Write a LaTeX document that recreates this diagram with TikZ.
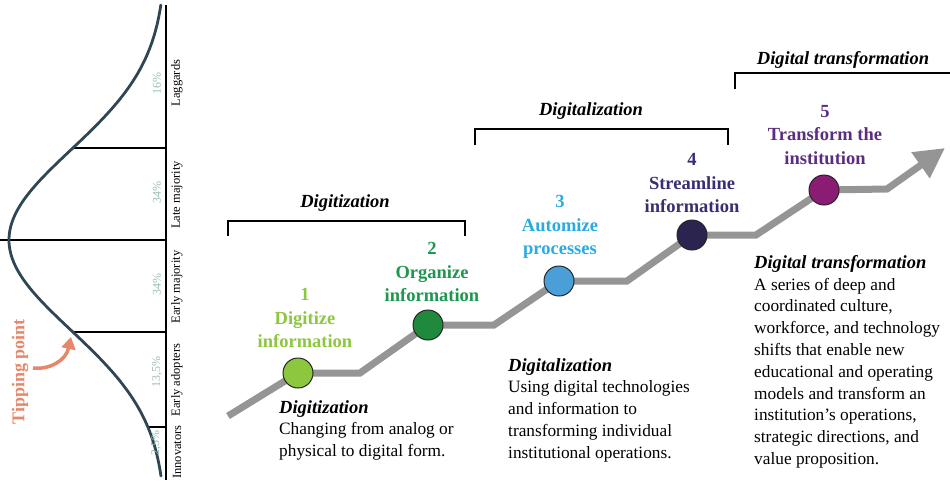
\documentclass[tikz,border=0pt]{standalone}
\usepackage{fontspec}
\setmainfont{LiberationSerif}[Extension=.ttf,UprightFont=*-Regular,BoldFont=*-Bold,ItalicFont=*-Italic,BoldItalicFont=*-BoldItalic]
\usetikzlibrary{arrows.meta}
\definecolor{curvec}{HTML}{2F4654}
\definecolor{pctc}{HTML}{9CBFB5}
\definecolor{tipc}{HTML}{E5876A}
\definecolor{pathc}{HTML}{959595}
\definecolor{cA}{HTML}{8DC63F}\definecolor{tA}{HTML}{8DC63F}
\definecolor{cB}{HTML}{1F8A3B}\definecolor{tB}{HTML}{1E9650}
\definecolor{cC}{HTML}{4A9FD8}\definecolor{tC}{HTML}{29ABE2}
\definecolor{cD}{HTML}{2B2350}\definecolor{tD}{HTML}{3B2D74}
\definecolor{cE}{HTML}{8B1C73}\definecolor{tE}{HTML}{5C2D7F}
\tikzset{
  seglabel/.style={rotate=90,font=\fontsize{12.5}{14}\selectfont,inner sep=0pt},
  pctlabel/.style={rotate=90,font=\fontsize{12}{14}\selectfont,text=pctc,inner sep=0pt},
  divline/.style={line width=1.3pt,black},
  stepdot/.style={circle,draw=black!85,line width=1pt,minimum size=30pt,inner sep=0pt},
  steplabel/.style={align=center,font=\bfseries\fontsize{18.5}{23.5}\selectfont,inner sep=0pt},
  phasehead/.style={font=\bfseries\itshape\fontsize{18.5}{22}\selectfont,inner sep=0pt},
  phasebracket/.style={line width=1.4pt,black},
  desc/.style={align=left,anchor=north west,inner sep=0pt,font=\fontsize{17.3}{21.8}\selectfont},
  grayline/.style={pathc,line width=7pt,line join=miter},
}
\begin{document}
\begin{tikzpicture}[x=1pt,y=-1pt]
\useasboundingbox (0,0) rectangle (950,480);
% ---------- bell curve ----------
\coordinate (axtop) at (166,5);
\coordinate (axbot) at (166,480);
\draw[line width=1.3pt] (axtop) -- (axbot);
\coordinate (l1a) at ({166-157*exp(-0.5*(92/90)^2)},148);
\coordinate (l1b) at (166,148);
\coordinate (l2a) at (0,240);
\coordinate (l2b) at (166,240);
\coordinate (l3a) at ({166-157*exp(-0.5*(92/90)^2)},332);
\coordinate (l3b) at (166,332);
\coordinate (l4a) at ({166-157*exp(-0.5*(187/90)^2)},427);
\coordinate (l4b) at (166,427);
\draw[divline] (l1a) -- (l1b);
\draw[divline] (l2a) -- (l2b);
\draw[divline] (l3a) -- (l3b);
\draw[divline] (l4a) -- (l4b);
\draw[curvec,line width=2.8pt,line cap=round] plot[domain=5:476,samples=120,smooth] ({166-157*exp(-0.5*((\x-240)/90)^2)},\x);
% segment labels
\node[seglabel] (sLag) at (177,83) {Laggards};
\node[seglabel] (sLate) at (177,195) {Late majority};
\node[seglabel] (sEarlyM) at (177,287) {Early majority};
\node[seglabel] (sEarlyA) at (177,380) {Early adopters};
\node[seglabel] (sInn) at (177,452) {Innovators};
\node[pctlabel] (p16) at (157,83) {16\%};
\node[pctlabel] (p34a) at (157,192) {34\%};
\node[pctlabel] (p34b) at (157,284) {34\%};
\node[pctlabel] (p135) at (157,372) {13,5\%};
\node[pctlabel] (p25) at (156,443) {2,5\%};
% tipping point
\node[rotate=90,font=\bfseries\fontsize{18}{20}\selectfont,text=tipc,inner sep=0pt] (tip) at (20,372) {Tipping point};
\coordinate (tipS) at (33,368);
\coordinate (tipE) at (71,337);
\draw[tipc,line width=3.5pt,-{Triangle[length=12pt,width=14pt]}] (tipS) .. controls (50,370) and (66,360) .. (tipE);
% ---------- staircase ----------
\coordinate (s0) at (228,416);
\coordinate (c1p) at (298,373);
\coordinate (b1) at (360,373);
\coordinate (c2p) at (428,325);
\coordinate (b2) at (494,325);
\coordinate (c3p) at (559,281);
\coordinate (b3) at (627,281);
\coordinate (c4p) at (692,235);
\coordinate (b4) at (756,235);
\coordinate (c5p) at (824,190);
\coordinate (b5) at (887,189);
\coordinate (s6) at (945,148);
\draw[grayline,-{Triangle[length=30pt,width=30pt]}] (s0) -- (c1p) -- (b1) -- (c2p) -- (b2) -- (c3p) -- (b3) -- (c4p) -- (b4) -- (c5p) -- (b5) -- (s6);
\node[stepdot,fill=cA] (c1) at (c1p) {};
\node[stepdot,fill=cB] (c2) at (c2p) {};
\node[stepdot,fill=cC] (c3) at (c3p) {};
\node[stepdot,fill=cD] (c4) at (c4p) {};
\node[stepdot,fill=cE] (c5) at (c5p) {};
\node[steplabel,text=tA] (t1) at (305,318) {1\\Digitize\\information};
\node[steplabel,text=tB] (t2) at (432,272) {2\\Organize\\information};
\node[steplabel,text=tC] (t3) at (560,227) {3\\Automize\\processes};
\node[steplabel,text=tD] (t4) at (692,183) {4\\Streamline\\information};
\node[steplabel,text=tE] (t5) at (825,135) {5\\Transform the\\institution};
% ---------- brackets ----------
\node[phasehead] (h1) at (345,203) {Digitization};
\coordinate (k1a) at (228,236); \coordinate (k1b) at (228,221);
\coordinate (k1c) at (465,221); \coordinate (k1d) at (465,236);
\draw[phasebracket] (k1a) -- (k1b) -- (k1c) -- (k1d);
\node[phasehead] (h2) at (591,111) {Digitalization};
\coordinate (k2a) at (475,145); \coordinate (k2b) at (475,129);
\coordinate (k2c) at (728,129); \coordinate (k2d) at (728,145);
\draw[phasebracket] (k2a) -- (k2b) -- (k2c) -- (k2d);
\node[phasehead] (h3) at (843,60) {Digital transformation};
\coordinate (k3a) at (735,89); \coordinate (k3b) at (735,73);
\coordinate (k3c) at (951,73);
\draw[phasebracket] (k3a) -- (k3b) -- (k3c);
% ---------- descriptions ----------
\node[desc] (d1) at (279,400) {\textbf{\textit{\fontsize{18.5}{22}\selectfont Digitization}}\\Changing from analog or\\physical to digital form.};
\node[desc] (d2) at (508,358) {\textbf{\textit{\fontsize{18.5}{22}\selectfont Digitalization}}\\Using digital technologies\\and information to\\transforming individual\\institutional operations.};
\node[desc] (d3) at (754,255) {\textbf{\textit{\fontsize{18.5}{22}\selectfont Digital transformation}}\\A series of deep and\\coordinated culture,\\workforce, and technology\\shifts that enable new\\educational and operating\\models and transform an\\institution’s operations,\\strategic directions, and\\value proposition.};
\end{tikzpicture}
\end{document}
